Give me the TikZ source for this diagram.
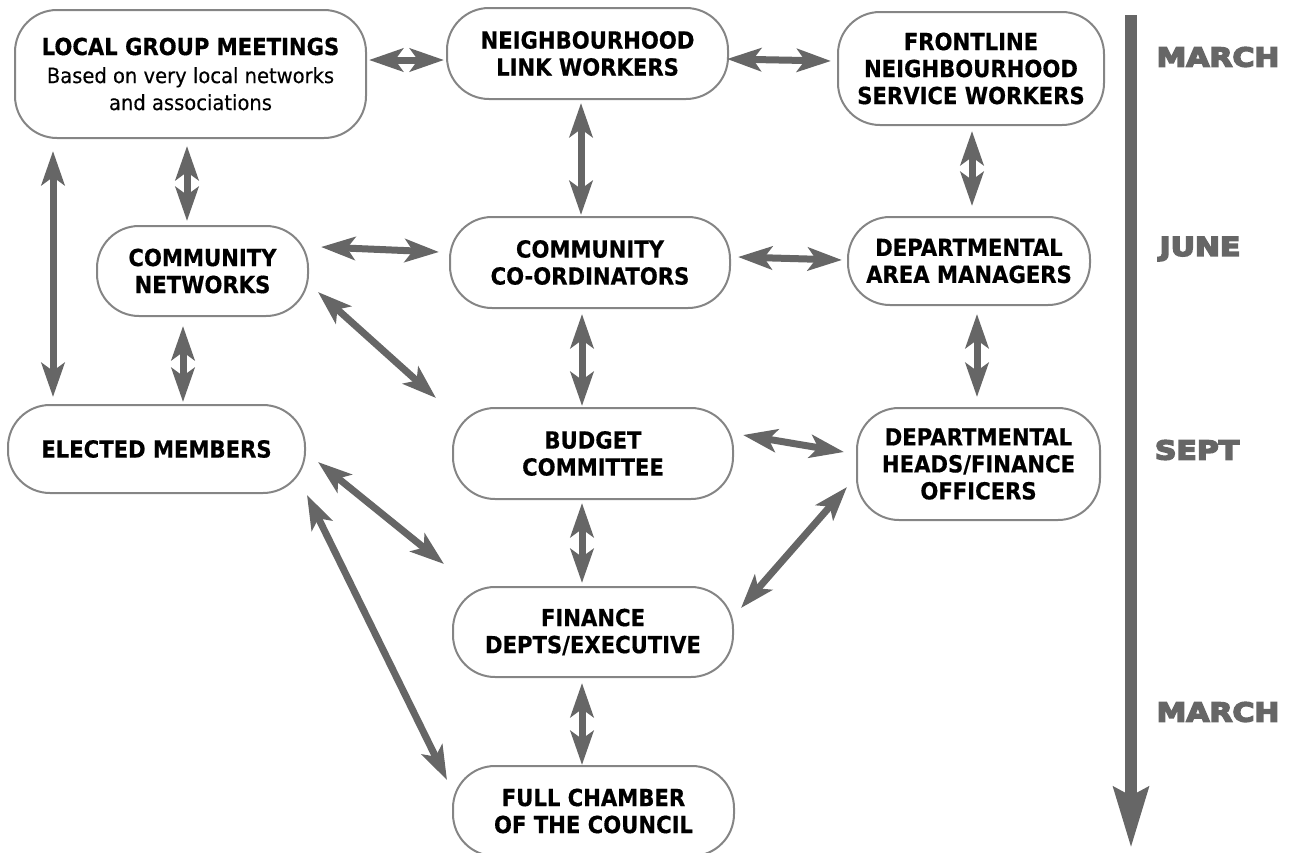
\documentclass[tikz,border=0pt]{standalone}
\usepackage{fontspec}
\setmainfont{DejaVu Sans}
\newfontfamily\nodefont{DejaVu Sans Bold}[FakeStretch=0.9,FakeBold=0.5]
\newfontfamily\subfont{DejaVu Sans}[FakeStretch=0.93,FakeBold=0.3]
\newfontfamily\monthfont{DejaVu Sans Bold}[FakeStretch=1.15,FakeBold=6]
\usetikzlibrary{arrows.meta,calc}
\definecolor{arrowgray}{HTML}{666666}
\definecolor{boxgray}{HTML}{858585}
\begin{document}
\begin{tikzpicture}[x=1pt,y=-1pt,
  box/.style={draw=boxgray,line width=2pt,rounded corners=42pt,align=center,
    font=\fontsize{23.5}{27}\selectfont\nodefont,inner sep=0pt},
  bi/.style={draw=arrowgray,line width=7pt,
    {Stealth[length=34pt,width=23pt,inset=8pt]}-{Stealth[length=34pt,width=23pt,inset=8pt]}},
  month/.style={text=arrowgray,font=\fontsize{26}{26}\selectfont\monthfont,anchor=center}]
\useasboundingbox (0,0) rectangle (1291,852);
% nodes
\node[box,minimum width=351pt,minimum height=128pt] (lgm) at (190.5,74)
  {LOCAL GROUP MEETINGS\\[1pt]{\subfont\fontsize{21}{28}\selectfont Based on very local networks}\\{\subfont\fontsize{21}{28}\selectfont and associations}};
\node[box,minimum width=281pt,minimum height=91pt] (nlw) at (587.5,53.5) {NEIGHBOURHOOD\\LINK WORKERS};
\node[box,minimum width=266pt,minimum height=113pt] (fnsw) at (971,68.5) {FRONTLINE\\NEIGHBOURHOOD\\SERVICE WORKERS};
\node[box,minimum width=211pt,minimum height=90pt] (cn) at (202.5,271) {COMMUNITY\\NETWORKS};
\node[box,minimum width=280pt,minimum height=91pt] (coco) at (590,262.5) {COMMUNITY\\CO-ORDINATORS};
\node[box,minimum width=242pt,minimum height=88pt] (dam) at (969,261) {DEPARTMENTAL\\AREA MANAGERS};
\node[box,minimum width=297pt,minimum height=88pt] (em) at (156.5,449) {ELECTED MEMBERS};
\node[box,minimum width=280pt,minimum height=91pt] (bud) at (593,453.5) {BUDGET\\COMMITTEE};
\node[box,minimum width=243pt,minimum height=112pt] (dh) at (978.5,464) {DEPARTMENTAL\\HEADS/FINANCE\\OFFICERS};
\node[box,minimum width=280pt,minimum height=90pt] (fin) at (593,632) {FINANCE\\DEPTS/EXECUTIVE};
\node[box,minimum width=281pt,minimum height=90pt] (full) at (593.5,811) {FULL CHAMBER\\OF THE COUNCIL};
% months
\node[month] (m1) at (1218,57) {MARCH};
\node[month] (m2) at (1200,249) {JUNE};
\node[month] (m3) at (1197,450) {SEPT};
\node[month] (m4) at (1218,712) {MARCH};
% timeline
\coordinate (tl1) at (1131,15);
\coordinate (tl2) at (1131,848);
\draw[draw=arrowgray,line width=12pt,-{Stealth[length=60pt,width=34pt,inset=8pt]}] (tl1) -- (tl2);
% connectors
\draw[bi] ($(lgm.east)+(2,-14)$) -- ($(nlw.west)+(-2,6.5)$);
\draw[bi] ($(nlw.east)+(-2,5.5)$) -- ($(fnsw.west)+(-6,-7.5)$);
\draw[bi] ($(lgm.south)+(-3.5,7)$) -- ($(cn.north)+(-15.5,-4)$);
\draw[bi] ($(nlw.south)+(-6.5,3)$) -- ($(coco.north)+(-9,-1)$);
\draw[bi] ($(fnsw.south)+(1,5)$) -- ($(dam.north)+(3,-10)$);
\draw[bi] ($(lgm.south west)+(39,12)$) -- ($(em.north west)+(46,-7)$);
\draw[bi] ($(cn.east)+(12,-24)$) -- ($(coco.west)+(-10,-10.5)$);
\draw[bi] ($(coco.east)+(7,-5.5)$) -- ($(dam.west)+(-5,-1)$);
\draw[bi] ($(cn.east)+(9,21)$) -- ($(bud.west)+(-16,-55.5)$);
\draw[bi] ($(cn.south)+(-19.5,9)$) -- ($(em.north)+(26.5,-2)$);
\draw[bi] ($(coco.south)+(-8,5)$) -- ($(bud.north)+(-11,-1)$);
\draw[bi] ($(dam.south)+(8,8)$) -- ($(dh.north)+(-1.5,-10)$);
\draw[bi] ($(bud.east)+(9,-18.5)$) -- ($(dh.west)+(-12,-12)$);
\draw[bi] ($(em.east)+(12,13)$) -- ($(fin.west)+(-8,-68)$);
\draw[bi] ($(em.south east)+(1,1)$) -- ($(full.west)+(-5,-31)$);
\draw[bi] ($(bud.south)+(-11,3)$) -- ($(fin.north)+(-11,-3)$);
\draw[bi] ($(dh.west)+(-9,23)$) -- ($(fin.east)+(7,-24)$);
\draw[bi] ($(fin.south)+(-11,5)$) -- ($(full.north)+(-11.5,0)$);
\end{tikzpicture}
\end{document}
